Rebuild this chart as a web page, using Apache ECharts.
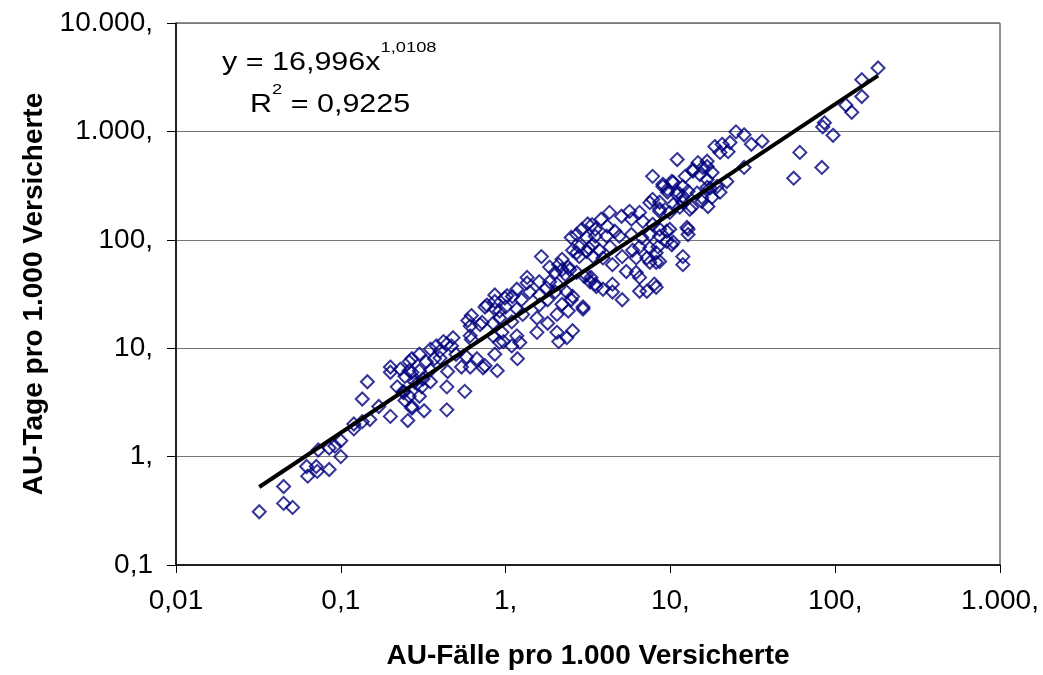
<!DOCTYPE html>
<html>
<head>
<meta charset="utf-8">
<title>AU-Tage vs. AU-Fälle</title>
<script src="https://cdn.jsdelivr.net/npm/echarts@6/dist/echarts.min.js"></script>
<style>
html, body { margin: 0; padding: 0; background: #fff; }
#chart { width: 1043px; height: 675px; }
</style>
</head>
<body>
<div id="chart"></div>
<script>
// AU-Fälle pro 1.000 Versicherte (x) / AU-Tage pro 1.000 Versicherte (y)
const auFaelle = [
  0.032, 0.045, 0.045, 0.051, 0.063, 0.062, 0.071, 0.072, 0.085, 0.10,
  0.073, 0.085, 0.092, 0.10, 0.12, 0.135, 0.15, 0.17, 0.135, 0.145,
  0.20, 0.255, 0.20, 0.20, 0.24, 0.245, 0.27, 0.27, 0.26, 0.29,
  0.86, 0.99, 0.77, 0.86, 0.92, 0.62, 0.59, 0.70, 0.61, 0.84,
  0.95, 0.97, 0.84, 0.62, 0.48, 0.42, 0.47, 0.38, 0.40, 0.35,
  0.30, 0.27, 0.33, 0.37, 0.40, 0.50, 0.58, 0.61, 0.54, 0.73,
  0.86, 0.89, 0.445, 0.35, 0.30, 0.23, 0.245, 0.26, 0.315, 0.28,
  0.31, 0.35, 0.44, 0.565, 0.22, 0.24, 0.26, 0.30, 0.27, 0.32,
  0.44, 0.12,
  2.5, 2.9, 3.15, 3.5, 3.1, 3.4, 2.8, 3.1, 2.7, 1.65,
  1.85, 2.1, 2.4, 2.0, 2.3, 2.7, 3.1, 3.5, 3.3, 1.6,
  1.85, 2.05, 1.77, 2.0, 2.35, 2.5, 2.95, 2.4, 2.05, 1.6,
  1.6, 1.8, 1.55, 1.8, 1.55, 2.05, 2.1, 2.35, 2.55, 1.35,
  1.35, 1.17, 1.4, 1.25, 1.1, 1.02, 1.0, 0.86, 0.75, 1.17,
  1.27, 0.92, 1.09, 1.17, 1.09, 1.22, 0.72, 0.61, 0.44, 0.92,
  1.18, 0.67, 0.75,
  11, 7.8, 14.7, 16.7, 13.7, 12.3, 15.1, 16.7, 10.4, 9.0,
  9.6, 11.1, 12.8, 14.5, 16.7, 7.5, 8.6, 10.4, 11.9, 8.6,
  9.9, 11.4, 13.1, 15.5, 16.9, 6.5, 5.65, 5.05, 4.27, 3.8,
  3.35, 5.8, 6.8, 7.8, 8.6, 9.9, 4.15, 4.6, 2.7, 3.5,
  4.1, 4.9, 5.8, 6.7, 7.5, 8.6, 9.5, 10.4, 12.6, 12.8,
  3.2, 3.7, 4.3, 2.8, 3.4, 3.9, 4.45, 5.1, 5.9, 6.5,
  7.5, 8.2, 6.2, 7.2, 8.2, 5.4, 6.2, 6.5, 7.5, 11.9,
  11.9, 2.55, 2.2, 2.2, 2.45, 3.0, 3.55, 3.25, 3.9, 4.45,
  4.45, 5.1, 6.5, 7.2, 8.2, 2.55, 2.95, 2.2,
  25, 28, 36, 31, 23, 20.6, 18.6, 20, 22.4, 16.7,
  13.7, 15.7, 17.9, 28, 22, 19.2, 20, 17.4, 17.9, 15.5,
  13.5, 9.0, 10.2, 9.6, 11.9, 11.9, 11, 8.6, 7.8, 12.8,
  9.5, 8.4, 8.6, 8.0, 10.2, 56, 182, 145, 145, 116,
  126, 86, 84, 97, 61, 83
];
const auTage = [
  0.31, 0.53, 0.37, 0.34, 0.66, 0.81, 0.81, 0.73, 0.76, 1.0,
  1.15, 1.2, 1.25, 1.4, 1.8, 2.1, 2.2, 2.9, 3.4, 4.9,
  2.35, 2.15, 6.7, 6.0, 4.0, 3.3, 2.9, 6.0, 7.5, 4.7,
  31, 29, 25, 23, 22, 20, 18, 16.5, 16, 17,
  14, 11.5, 13, 12, 12.5, 11.5, 10.5, 10.5, 9.4, 9.8,
  8.8, 8.0, 7.5, 8.0, 8.1, 8.8, 8.3, 6.7, 6.7, 6.6,
  8.8, 6.2, 6.1, 6.3, 6.2, 6.4, 5.5, 6.2, 5.2, 4.9,
  4.4, 4.9, 4.4, 4.0, 4.4, 3.9, 3.6, 3.6, 2.8, 2.65,
  2.7, 2.0,
  105, 125, 140, 125, 105, 91, 86, 78, 76, 70,
  56, 59, 56, 50, 48, 50, 47, 39, 45, 41,
  41, 39, 36, 33, 33, 28, 24, 22, 20.5, 25,
  31, 28, 19, 17, 14, 14, 11.5, 12.5, 14.5, 45,
  40, 35, 33, 28, 30, 30.5, 24, 27, 24, 23,
  20.5, 19, 17.5, 13, 10.5, 11.3, 17.3, 13, 10.9, 11.3,
  8.0, 8.0, 6.9,
  550, 385, 515, 475, 430, 385, 400, 360, 340, 310,
  275, 275, 280, 270, 305, 220, 222, 212, 222, 183,
  179, 200, 191, 226, 203, 179, 183, 165, 179, 155,
  138, 155, 148, 139, 125, 125, 133, 120, 112, 108,
  108, 108, 112, 105, 112, 108, 97, 95, 130, 112,
  84, 80, 86, 70, 70, 68, 59, 70, 80, 86,
  84, 76, 68, 68, 62, 51, 50, 45, 62, 70,
  59, 80, 66, 53, 53, 46, 37, 41, 35, 39,
  33, 28, 33.5, 33.5, 36.5, 30, 23, 25.4,
  990, 930, 810, 760, 790, 760, 725, 640, 650, 530,
  445, 465, 418, 465, 345, 310, 275, 300, 246, 246,
  200, 325, 345, 292, 310, 252, 262, 192, 236, 125,
  120, 86, 63, 39, 90, 370, 3850, 3000, 2100, 1750,
  1500, 1200, 1100, 920, 640, 465
];
const xTickLabels = ['0,01', '0,1', '1,', '10,', '100,', '1.000,'];
const yTickLabels = ['0,1', '1,', '10,', '100,', '1.000,', '10.000,'];
// Potenz-Trendlinie y = 16,996 x^1,0108
const fitA = 16.996;
const fitB = 1.0108;

const points = auFaelle.map((x, i) => [x, auTage[i]]);
const xMin = Math.min(...auFaelle);
const xMax = Math.max(...auFaelle);
const trend = [xMin, xMax].map(x => [x, fitA * Math.pow(x, fitB)]);

const FONT = '"Liberation Sans", Arial, sans-serif';

const eqRich = {
  a: { fontFamily: FONT, fontSize: 25, fill: '#000', lineHeight: 36, verticalAlign: 'bottom' },
  b: { fontFamily: FONT, fontSize: 15, fill: '#000', lineHeight: 36, verticalAlign: 'top' }
};

const chart = echarts.init(document.getElementById('chart'));
const option = {
  animation: false,
  backgroundColor: '#fff',
  textStyle: { fontFamily: FONT },
  grid: {
    left: 176, right: 43, top: 23, bottom: 108,
    show: true, borderColor: '#222', borderWidth: 1
  },
  xAxis: {
    type: 'log', logBase: 10, min: 0.01, max: 1000,
    name: 'AU-Fälle pro 1.000 Versicherte',
    nameLocation: 'middle', nameGap: 77,
    nameTextStyle: { fontFamily: FONT, fontSize: 28, fontWeight: 'bold', color: '#000' },
    axisLine: { lineStyle: { color: '#000', width: 1.5 } },
    axisTick: { show: true, length: 8, lineStyle: { color: '#000' } },
    minorTick: { show: false },
    splitLine: { show: false },
    axisLabel: {
      margin: 22, fontFamily: FONT, fontSize: 28, color: '#000',
      formatter: v => xTickLabels[Math.round(Math.log10(v)) + 2]
    }
  },
  yAxis: {
    type: 'log', logBase: 10, min: 0.1, max: 10000,
    name: 'AU-Tage pro 1.000 Versicherte',
    nameLocation: 'middle', nameGap: 127, nameRotate: 90,
    nameTextStyle: { fontFamily: FONT, fontSize: 28, fontWeight: 'bold', color: '#000' },
    axisLine: { lineStyle: { color: '#000', width: 1.5 } },
    axisTick: { show: true, length: 9, lineStyle: { color: '#000' } },
    minorTick: { show: false },
    splitLine: { show: true, lineStyle: { color: '#777', width: 1 } },
    axisLabel: {
      margin: 23, fontFamily: FONT, fontSize: 28, color: '#000',
      formatter: v => yTickLabels[Math.round(Math.log10(v)) + 1]
    }
  },
  graphic: [
    {
      type: 'text', x: 222, y: 40, scaleX: 1.22,
      style: { text: '{a|y = 16,996x}{b|1,0108}', rich: eqRich }
    },
    {
      type: 'text', x: 250, y: 82, scaleX: 1.22,
      style: { text: '{a|R}{b|2}{a| = 0,9225}', rich: eqRich }
    }
  ],
  series: [
    {
      type: 'scatter',
      data: points,
      symbol: 'diamond',
      symbolSize: 13,
      itemStyle: { color: 'rgba(0,0,0,0)', borderColor: '#000080', borderWidth: 2 },
      z: 2
    },
    {
      type: 'line',
      data: trend,
      symbol: 'none',
      lineStyle: { color: '#000', width: 4 },
      z: 3
    }
  ]
};
chart.setOption(option);
</script>
</body>
</html>
